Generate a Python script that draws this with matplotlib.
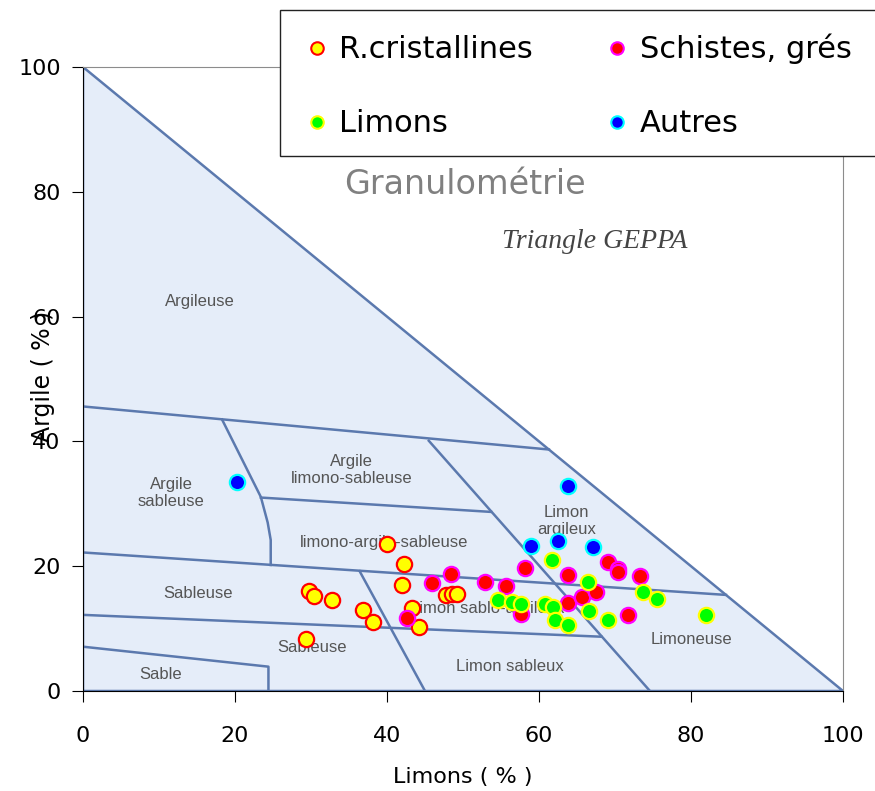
import matplotlib
matplotlib.use("Agg")
import matplotlib.pyplot as plt
from matplotlib.lines import Line2D
from matplotlib.patches import Rectangle

# Sample points: (Limons %, Argile %) per group
cristallines_x = [40.0, 42.2, 42.0, 29.8, 30.4, 32.8, 36.9, 38.2, 29.3, 43.3, 44.2, 47.7, 48.5, 49.2]
cristallines_y = [23.6, 20.4, 17.0, 16.1, 15.3, 14.6, 13.0, 11.1, 8.4, 13.3, 10.3, 15.4, 15.5, 15.6]

schistes_x = [42.6, 45.9, 48.4, 52.9, 55.7, 58.1, 57.6, 63.8, 63.8, 65.7, 67.5, 69.1, 70.4, 70.4, 73.3, 71.7]
schistes_y = [11.7, 17.3, 18.7, 17.5, 16.9, 19.7, 12.4, 18.6, 14.1, 15.1, 15.8, 20.7, 19.6, 19.0, 18.5, 12.2]

limons_x = [61.7, 66.5, 54.6, 56.4, 57.6, 60.8, 61.9, 62.1, 63.8, 66.6, 69.1, 73.7, 75.5, 82.0]
limons_y = [21.0, 17.4, 14.6, 14.2, 14.0, 13.9, 13.5, 11.3, 10.5, 12.9, 11.4, 15.9, 14.8, 12.2]

autres_x = [20.3, 63.8, 58.9, 62.5, 67.1]
autres_y = [33.5, 32.8, 23.3, 24.0, 23.0]

# GEPPA class boundaries (Limons, Argile)
boundaries = [
    [(0, 45.6), (61.3, 38.7)],
    [(0, 22.2), (84.6, 15.4)],
    [(0, 12.2), (68.2, 8.7)],
    [(0, 7.1), (24.4, 3.9), (24.4, 0)],
    [(18.3, 43.5), (23.4, 31.1), (24.3, 27.0), (24.7, 24.2), (24.7, 20.2)],
    [(23.4, 31.0), (53.7, 28.7)],
    [(45.5, 40.1), (74.6, 0)],
    [(36.4, 19.2), (45.0, 0)],
]

zone_names = ["Argileuse", "Argile\nsableuse", "Argile\nlimono-sableuse", "limono-argilo-sableuse",
              "Sableuse", "Sableuse", "Sable", "Limon sablo-argileux", "Limon sableux",
              "Limon\nargileux", "Limoneuse"]
zone_x = [15.4, 11.6, 35.3, 39.6, 15.2, 30.1, 10.2, 53.2, 56.2, 63.6, 80.0]
zone_y = [62.4, 31.7, 35.4, 23.8, 15.6, 6.9, 2.7, 13.2, 4.0, 27.3, 8.2]

fig = plt.figure(figsize=(8.75, 7.91), dpi=100)
ax = fig.add_axes([83 / 875, 1 - 691 / 791, 760 / 875, 624 / 791])

line_col = "#5b79ae"
ax.fill([0, 0, 100], [0, 100, 0], color="#e5edf9", zorder=0)
ax.plot([0, 0, 100, 0], [0, 100, 0, 0], color=line_col, lw=1.8, zorder=1)
for seg in boundaries:
    xs, ys = zip(*seg)
    ax.plot(xs, ys, color=line_col, lw=1.8, zorder=1)

for name, zx, zy in zip(zone_names, zone_x, zone_y):
    ax.text(zx, zy, name, ha="center", va="center", fontsize=12, color="#555555",
            family="Liberation Sans", linespacing=1.15, zorder=2)

ms = 11
ax.plot(cristallines_x, cristallines_y, "o", ms=ms, mfc="#ffff00", mec="#ff0000", mew=1.6, zorder=3)
ax.plot(schistes_x, schistes_y, "o", ms=ms, mfc="#ff0000", mec="#ff00ff", mew=1.6, zorder=3)
ax.plot(limons_x, limons_y, "o", ms=ms, mfc="#00ff00", mec="#ffff00", mew=1.6, zorder=3)
ax.plot(autres_x, autres_y, "o", ms=ms, mfc="#0000ff", mec="#00ffff", mew=1.6, zorder=3)

ax.set_xlim(0, 100)
ax.set_ylim(0, 100)
ax.set_xticks(range(0, 101, 20))
ax.set_yticks(range(0, 101, 20))
ax.tick_params(axis="x", direction="out", length=8, pad=17, labelsize=16)
ax.tick_params(axis="y", direction="out", length=8, pad=8, labelsize=16)
for s in ["top", "right"]:
    ax.spines[s].set_color("#8c8c8c")
ax.set_xlabel("Limons ( % )", fontsize=16)
ax.xaxis.set_label_coords(0.5, -0.122)
ax.set_ylabel("Argile ( % )", fontsize=17)
ax.yaxis.set_label_coords(-0.037, 0.505)

fig.text(465 / 875, 1 - 185 / 791, "Granulométrie", ha="center", va="center",
         fontsize=24, color="#808080")
fig.text(595 / 875, 1 - 241 / 791, "Triangle GEPPA", ha="center", va="center",
         fontsize=20, style="italic", family="Liberation Serif", color="#444444")

fig.add_artist(Rectangle((280 / 875, 1 - 156 / 791), 620 / 875, 146 / 791,
                         transform=fig.transFigure, facecolor="white",
                         edgecolor="#222222", lw=1.0, zorder=5))
handles = [
    Line2D([], [], ls="", marker="o", ms=9, mfc="#ffff00", mec="#ff0000", mew=1.5),
    Line2D([], [], ls="", marker="o", ms=9, mfc="#00ff00", mec="#ffff00", mew=1.5),
    Line2D([], [], ls="", marker="o", ms=9, mfc="#ff0000", mec="#ff00ff", mew=1.5),
    Line2D([], [], ls="", marker="o", ms=9, mfc="#0000ff", mec="#00ffff", mew=1.5),
]
labels = ["R.cristallines", "Limons", "Schistes, grés", "Autres"]
leg = fig.legend(handles, labels, loc="upper left", bbox_to_anchor=(278 / 875, 1 - 10 / 791),
                 ncol=2, fontsize=22, frameon=False, borderaxespad=0,
                 handlelength=1.0, handletextpad=0.23, borderpad=0.78,
                 labelspacing=1.47, columnspacing=2.25)
leg.set_zorder(6)

fig.savefig("out.png", dpi=100)
